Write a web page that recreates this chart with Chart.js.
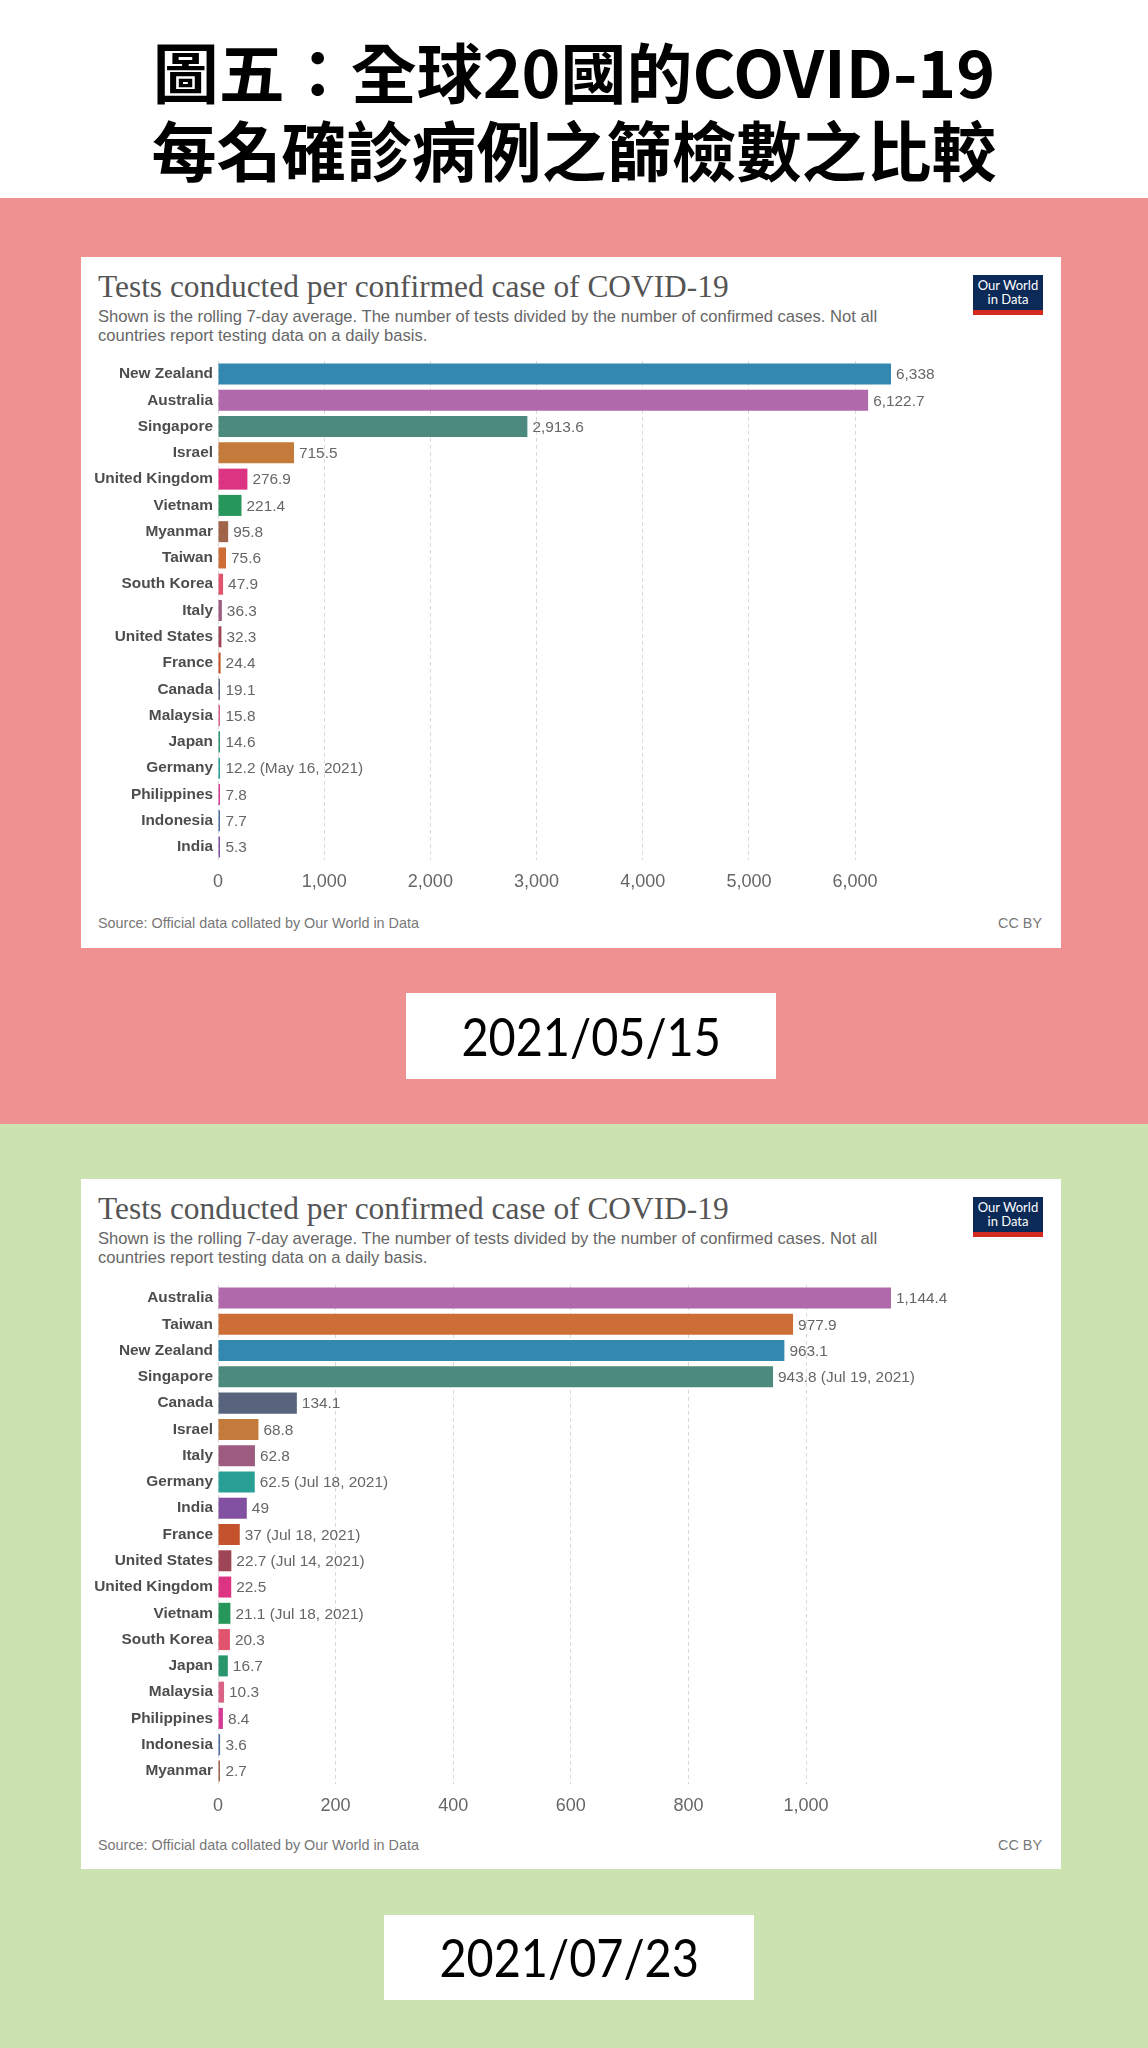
<!DOCTYPE html>
<html>
<head>
<meta charset="utf-8">
<script src="https://cdn.jsdelivr.net/npm/chart.js@4.4.1/dist/chart.umd.min.js"></script>
<style>
  body { margin: 0; background: #fff; }
  #page { position: relative; width: 1148px; height: 2048px; overflow: hidden; background: #fff; }
  .abs { position: absolute; }
  .headline { left: 0; width: 1148px; text-align: center; font-family: "Noto Sans CJK TC", sans-serif; font-weight: 700; font-size: 65px; color: #000; line-height: 76px; }
  .headline span { display: inline-block; }
  .band { left: 0; width: 1148px; }
  .card { left: 81px; width: 980px; background: #fff; }
  .ctitle { left: 17px; font-family: "Liberation Serif", serif; font-size: 31.4px; color: #555; white-space: nowrap; }
  .csub { left: 17px; width: 860px; font-family: "Liberation Sans", Arial, sans-serif; font-size: 16.6px; line-height: 19px; color: #666; white-space: nowrap; }
  .logo { left: 892px; top: 18px; width: 70px; height: 40px; background: #0b2a57; color: #fff; font-family: Lato, sans-serif; font-size: 13px; line-height: 14px; text-align: center; box-sizing: border-box; padding-top: 3px; }
  .logo .red { position: absolute; left: 0; bottom: 0; width: 70px; height: 5px; background: #d42b21; }
  .source { left: 17px; font-family: "Liberation Sans", Arial, sans-serif; font-size: 14.4px; color: #777; }
  .ccby { right: 19px; font-family: "Liberation Sans", Arial, sans-serif; font-size: 14.4px; color: #777; }
  .datebox { background: #fff; text-align: center; font-family: Lato, "Open Sans", sans-serif; font-size: 52px; color: #000; }
  .datebox span { display: inline-block; transform: scaleX(0.9); }
  canvas { position: absolute; left: 81px; }
</style>
</head>
<body>
<div id="page">
  <div class="abs headline" style="top:32px;"><span style="transform:scaleX(1.015);">圖五：全球20國的COVID-19</span></div>
  <div class="abs headline" style="top:110px;"><span>每名確診病例之篩檢數之比較</span></div>

  <div class="abs band" style="top:198px;height:926px;background:#f09191;"></div>
  <div class="abs band" style="top:1124px;height:924px;background:#cde2b1;"></div>

  <div class="abs card" style="top:257px;height:691px;">
    <div class="abs ctitle" style="top:12px;">Tests conducted per confirmed case of COVID-19</div>
    <div class="abs csub" style="top:50px;">Shown is the rolling 7-day average. The number of tests divided by the number of confirmed cases. Not all<br>countries report testing data on a daily basis.</div>
    <div class="abs logo">Our World<br>in Data<div class="red"></div></div>
    <div class="abs source" style="top:658px;">Source: Official data collated by Our World in Data</div>
    <div class="abs ccby" style="top:658px;">CC BY</div>
  </div>
  <div class="abs datebox" style="left:406px;top:993px;width:370px;height:86px;line-height:86px;"><span>2021/05/15</span></div>

  <div class="abs card" style="top:1179px;height:690px;">
    <div class="abs ctitle" style="top:12px;">Tests conducted per confirmed case of COVID-19</div>
    <div class="abs csub" style="top:50px;">Shown is the rolling 7-day average. The number of tests divided by the number of confirmed cases. Not all<br>countries report testing data on a daily basis.</div>
    <div class="abs logo">Our World<br>in Data<div class="red"></div></div>
    <div class="abs source" style="top:658px;">Source: Official data collated by Our World in Data</div>
    <div class="abs ccby" style="top:658px;">CC BY</div>
  </div>
  <div class="abs datebox" style="left:384px;top:1915px;width:370px;height:85px;line-height:85px;"><span>2021/07/23</span></div>

  <canvas id="chartMay" width="980" height="570" style="top:340px;"></canvas>
  <canvas id="chartJul" width="980" height="570" style="top:1264px;"></canvas>
</div>
<script>
// 2021/05/15
const countriesMay = ["New Zealand", "Australia", "Singapore", "Israel", "United Kingdom", "Vietnam", "Myanmar", "Taiwan", "South Korea", "Italy", "United States", "France", "Canada", "Malaysia", "Japan", "Germany", "Philippines", "Indonesia", "India"];
const valuesMay = [6338, 6122.7, 2913.6, 715.5, 276.9, 221.4, 95.8, 75.6, 47.9, 36.3, 32.3, 24.4, 19.1, 15.8, 14.6, 12.2, 7.8, 7.7, 5.3];
const notesMay = ["", "", "", "", "", "", "", "", "", "", "", "", "", "", "", "May 16, 2021", "", "", ""];
const stepMay = 1000;

// 2021/07/23
const countriesJul = ["Australia", "Taiwan", "New Zealand", "Singapore", "Canada", "Israel", "Italy", "Germany", "India", "France", "United States", "United Kingdom", "Vietnam", "South Korea", "Japan", "Malaysia", "Philippines", "Indonesia", "Myanmar"];
const valuesJul = [1144.4, 977.9, 963.1, 943.8, 134.1, 68.8, 62.8, 62.5, 49, 37, 22.7, 22.5, 21.1, 20.3, 16.7, 10.3, 8.4, 3.6, 2.7];
const notesJul = ["", "", "", "Jul 19, 2021", "", "", "", "Jul 18, 2021", "", "Jul 18, 2021", "Jul 14, 2021", "", "Jul 18, 2021", "", "", "", "", "", ""];
const stepJul = 200;

const countryColors = {
  "New Zealand": "#3388af",
  "Australia": "#b06aab",
  "Singapore": "#4b8a7d",
  "Israel": "#c47a3a",
  "United Kingdom": "#dc3482",
  "Vietnam": "#26965a",
  "Myanmar": "#a0644a",
  "Taiwan": "#cd6e37",
  "South Korea": "#e0546e",
  "Italy": "#9e5b80",
  "United States": "#9e4657",
  "France": "#c4522c",
  "Canada": "#58647d",
  "Malaysia": "#d96385",
  "Japan": "#2a966e",
  "Germany": "#29a095",
  "Philippines": "#d63c96",
  "Indonesia": "#4e6ea0",
  "India": "#8250a0"
};

function fmt(v) {
  return v.toLocaleString("en-US", { maximumFractionDigits: 1 });
}

const valueLabels = {
  id: "valueLabels",
  afterDatasetsDraw(chart) {
    const ctx = chart.ctx;
    const notes = chart.options.plugins.valueLabels.notes;
    const meta = chart.getDatasetMeta(0);
    ctx.save();
    ctx.font = "15.4px 'Liberation Sans', Arial, sans-serif";
    ctx.fillStyle = "#666";
    ctx.textAlign = "left";
    ctx.textBaseline = "middle";
    meta.data.forEach((bar, i) => {
      let v = chart.data.datasets[0].data[i];
      let text = fmt(v) + (notes[i] ? " (" + notes[i] + ")" : "");
      ctx.fillText(text, Math.max(bar.x, bar.base + 2) + 5, bar.y + 1);
    });
    ctx.restore();
  }
};

function makeChart(id, countries, values, notes, step) {
  let ctx = document.getElementById(id).getContext("2d");
  return new Chart(ctx, {
    type: "bar",
    data: {
      labels: countries,
      datasets: [{
        data: values,
        backgroundColor: countries.map(c => countryColors[c]),
        barPercentage: 0.8,
        categoryPercentage: 1,
        minBarLength: 2
      }]
    },
    options: {
      indexAxis: "y",
      responsive: false,
      animation: false,
      devicePixelRatio: 1,
      layout: { padding: { top: 20.9, right: 170, left: 0, bottom: 0 } },
      plugins: {
        legend: { display: false },
        tooltip: { enabled: false },
        valueLabels: { notes: notes }
      },
      scales: {
        x: {
          min: 0,
          max: Math.max(...values),
          grid: { color: "#d9d9d9", drawTicks: false, lineWidth: 1 },
          border: { display: false, dash: [4, 3] },
          ticks: {
            padding: 11,
            color: "#666",
            font: { family: "'Liberation Sans', Arial, sans-serif", size: 18 },
            callback: v => fmt(v)
          },
          afterBuildTicks: scale => {
            let ticks = [];
            for (let v = 0; v <= scale.max; v += step) ticks.push({ value: v });
            scale.ticks = ticks;
          },
          afterFit: scale => { scale.height = 49.9; }
        },
        y: {
          grid: { display: false, drawTicks: false },
          border: { display: false },
          ticks: {
            padding: 5,
            color: "#4d4d4d",
            font: { family: "'Liberation Sans', Arial, sans-serif", size: 15.4, weight: "bold" }
          },
          afterFit: scale => { scale.width = 137; }
        }
      }
    },
    plugins: [valueLabels]
  });
}

makeChart("chartMay", countriesMay, valuesMay, notesMay, stepMay);
makeChart("chartJul", countriesJul, valuesJul, notesJul, stepJul);
</script>
</body>
</html>
